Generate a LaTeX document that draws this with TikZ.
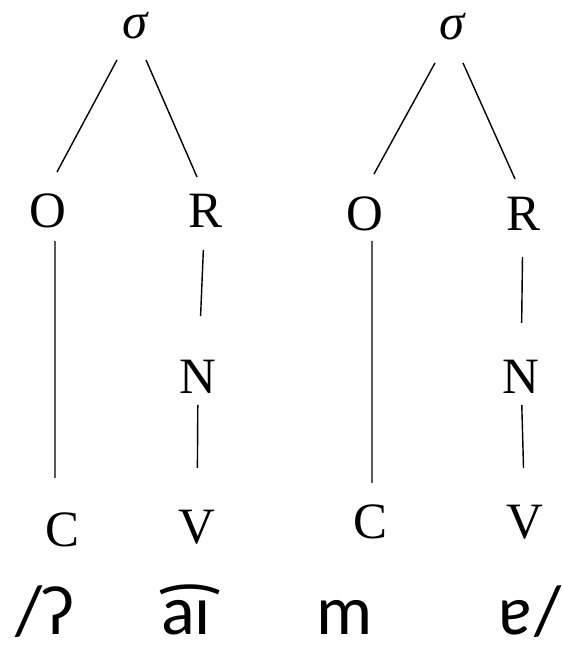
\documentclass[tikz,border=0pt]{standalone}
\usepackage{fontspec}
\setmainfont{Liberation Serif}
\newfontfamily\ipafont{Carlito}
\tikzset{
	cat/.style = {font=\fontsize{29}{30}\selectfont, inner sep=0pt},
	ipa/.style = {font=\ipafont\fontsize{40}{42}\selectfont, inner sep=0pt, anchor=base},
	branch/.style = {line width=0.8pt}
}
\begin{document}
\begin{tikzpicture}
	\useasboundingbox (0,0) rectangle (11.24,13.06);
	% first syllable
	\node [cat] (s1) at (2.70,12.54) {\itshape σ};
	\node [cat] (o1) at (0.96,8.84) {O};
	\node [cat] (r1) at (4.10,8.84) {R};
	\node [cat] (n1) at (3.96,5.52) {N};
	\node [cat] (c1) at (1.24,2.46) {C};
	\node [cat] (v1) at (3.94,2.52) {V};
	% second syllable
	\node [cat] (s2) at (9.04,12.52) {\itshape σ};
	\node [cat] (o2) at (7.30,8.78) {O};
	\node [cat] (r2) at (10.46,8.78) {R};
	\node [cat] (n2) at (10.42,5.52) {N};
	\node [cat] (c2) at (7.40,2.62) {C};
	\node [cat] (v2) at (10.50,2.62) {V};
	\draw [branch] ([shift={(-0.36,-0.68)}]s1.center) -- ([shift={(0.18,0.78)}]o1.center);
	\draw [branch] ([shift={(0.22,-0.68)}]s1.center) -- ([shift={(-0.16,0.68)}]r1.center);
	\draw [branch] ([shift={(-0.34,-0.72)}]s2.center) -- ([shift={(0.18,0.80)}]o2.center);
	\draw [branch] ([shift={(0.22,-0.72)}]s2.center) -- ([shift={(-0.16,0.70)}]r2.center);
	\draw [branch] ([shift={(0.14,-0.60)}]o1.center) -- ([shift={(-0.14,1.04)}]c1.center);
	\draw [branch] ([shift={(0.14,-0.54)}]o2.center) -- ([shift={(0.04,0.78)}]c2.center);
	\draw [branch, shorten <=0.78cm, shorten >=1.22cm] (r1.center) -- (n1.center);
	\draw [branch, shorten <=0.86cm, shorten >=1.08cm] (r2.center) -- (n2.center);
	\draw [branch, shorten <=0.56cm, shorten >=1.18cm] (n1.center) -- (v1.center);
	\draw [branch, shorten <=0.56cm, shorten >=1.08cm] (n2.center) -- (v2.center);
	% transcription
	\node [ipa] (w1) at (0.90,0.36) {/ʔ};
	\node [ipa] (w2) at (3.72,0.36) {a͡ɪ};
	\node [ipa] (w3) at (6.90,0.36) {m};
	\node [ipa] (w4) at (10.60,0.36) {ɐ\kern1pt/};
\end{tikzpicture}
\end{document}
